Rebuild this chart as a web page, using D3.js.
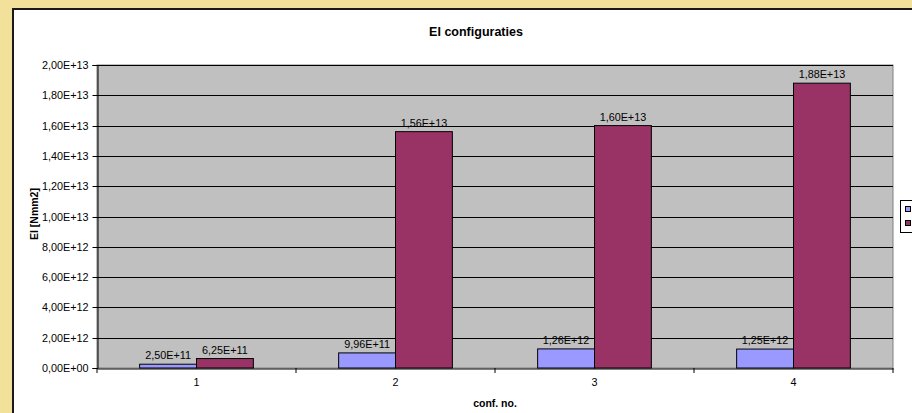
<!DOCTYPE html>
<html><head><meta charset="utf-8">
<script src="https://cdn.jsdelivr.net/npm/d3@7"></script>
<style>body{margin:0;background:#fff}svg{display:block;font-family:"Liberation Sans",Arial,sans-serif}</style>
</head><body>
<svg id="c" width="912" height="413"></svg>
<script>
const categories = ["1","2","3","4"];
const seriesNames = ["Series 1","Series 2"];
const series1 = [2.50e11, 9.96e11, 1.26e12, 1.25e12];
const series2 = [6.25e11, 1.56e13, 1.60e13, 1.88e13];
const yTicks = [0,2e12,4e12,6e12,8e12,1e13,1.2e13,1.4e13,1.6e13,1.8e13,2e13];
const colors = ["#9999FF","#993366"];

function fmt(v){
  let s = d3.format(".2e")(v);
  let [m,e] = s.split("e");
  let sign = e[0]; let d = e.slice(1).padStart(2,"0");
  return m.replace(".",",") + "E" + sign + d;
}

const svg = d3.select("#c");
// outer frame
svg.append("rect").attr("x",0).attr("y",0).attr("width",912).attr("height",413).attr("fill","#F2E19B");
svg.append("rect").attr("x",12).attr("y",8).attr("width",910).attr("height",420).attr("fill","#fff");
svg.append("line").attr("x1",12).attr("x2",912).attr("y1",9).attr("y2",9).attr("stroke","#1a1a1a").attr("stroke-width",2);
svg.append("line").attr("x1",13).attr("x2",13).attr("y1",8).attr("y2",413).attr("stroke","#1a1a1a").attr("stroke-width",2);

const L=97, R=893, T=65, B=368;
const x = d3.scaleBand().domain(categories).range([L,R]).paddingInner(0).paddingOuter(0);
const y = d3.scaleLinear().domain([0,2e13]).range([B,T]);

svg.append("rect").attr("x",L).attr("y",T).attr("width",R-L).attr("height",B-T).attr("fill","#C0C0C0").attr("stroke","#808080");

// gridlines
svg.append("g").selectAll("line").data(yTicks.slice(1)).join("line")
  .attr("x1",L).attr("x2",R).attr("y1",d=>Math.round(y(d))+0.5).attr("y2",d=>Math.round(y(d))+0.5)
  .attr("stroke","#000").attr("stroke-width",1);

// y axis
const ya = svg.append("g").attr("transform",`translate(${L+0.5},0)`)
  .call(d3.axisLeft(y).tickValues(yTicks).tickFormat(fmt).tickSizeOuter(0).tickSize(5).tickPadding(4));
ya.select(".domain").attr("stroke","#000");
ya.selectAll(".tick line").attr("stroke","#000");
ya.selectAll(".tick text").attr("font-size",10.8).attr("fill","#000").attr("font-family","Liberation Sans, Arial, sans-serif");
ya.selectAll(".tick").attr("transform",d=>`translate(0,${Math.round(y(d))+0.5})`);

// bars
const bw = x.bandwidth()/3.5;
const data = categories.map((c,i)=>({c, vals:[series1[i],series2[i]]}));
const g = svg.append("g");
data.forEach(d=>{
  d.vals.forEach((v,k)=>{
    const x0 = x(d.c) + x.bandwidth()/2 - bw + k*bw;
    g.append("rect").attr("x",x0).attr("y",y(v)).attr("width",bw).attr("height",B-y(v))
      .attr("fill",colors[k]).attr("stroke","#000").attr("stroke-width",1);
    g.append("text").attr("x",x0+bw/2).attr("y",y(v)-5).attr("text-anchor","middle")
      .attr("font-size",10.8).attr("fill","#000").text(fmt(v));
  });
});

// x axis
const xa = svg.append("g").attr("transform",`translate(0,${B+0.5})`)
  .call(d3.axisBottom(x).tickSize(0).tickPadding(10));
xa.select(".domain").attr("stroke","#000");
xa.selectAll(".tick text").attr("font-size",10.8).attr("fill","#000").attr("font-family","Liberation Sans, Arial, sans-serif");
// boundary ticks
svg.append("g").selectAll("line").data(categories.concat(["end"])).join("line")
  .attr("x1",(d,i)=>i<4?x(d):R).attr("x2",(d,i)=>i<4?x(d):R)
  .attr("y1",B).attr("y2",B+5).attr("stroke","#000");

// titles
svg.append("text").attr("x",476).attr("y",36).attr("text-anchor","middle").attr("font-size",12.5).attr("font-weight","bold").text("EI configuraties");
svg.append("text").attr("x",495).attr("y",407).attr("text-anchor","middle").attr("font-size",10.5).attr("font-weight","bold").text("conf. no.");
svg.append("text").attr("transform","translate(38,214) rotate(-90)").attr("text-anchor","middle").attr("font-size",10.5).attr("font-weight","bold").text("EI [Nmm2]");

// legend (cropped)
svg.append("rect").attr("x",900.5).attr("y",200.5).attr("width",40).attr("height",32).attr("fill","#fff").attr("stroke","#000");
colors.forEach((c,k)=>{
  svg.append("rect").attr("x",905.5).attr("y",206.5+k*14).attr("width",5).attr("height",5).attr("fill",c).attr("stroke","#000");
});
</script>
</body></html>
